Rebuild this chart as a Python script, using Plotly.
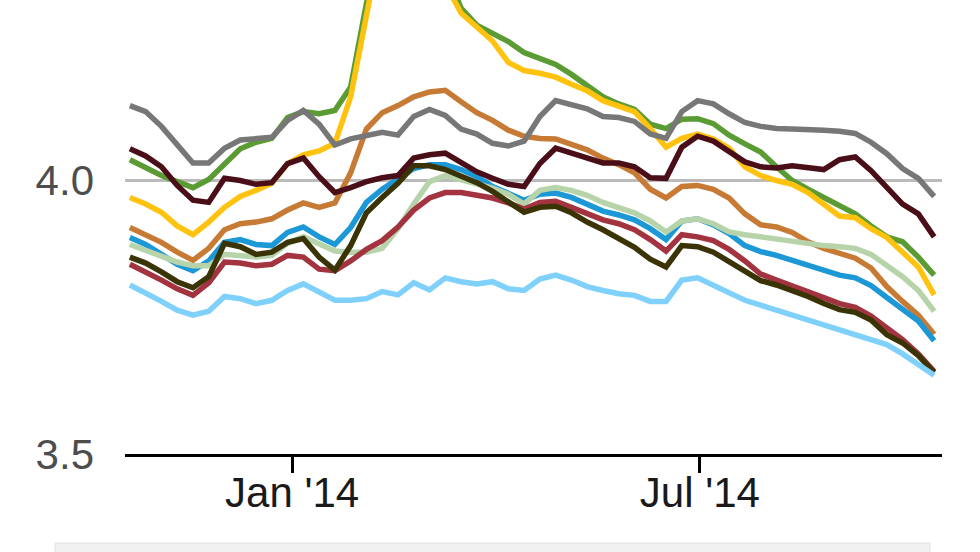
import pandas as pd
import plotly.graph_objects as go

# Weekly dates (Mondays), Oct 21 2013 - Oct 13 2014
dates = pd.date_range("2013-10-21", periods=52, freq="7D")

gray = [4.137, 4.126, 4.099, 4.067, 4.032, 4.032, 4.059, 4.074, 4.076, 4.079,
        4.110, 4.128, 4.103, 4.065, 4.076, 4.083, 4.088, 4.083, 4.117, 4.130,
        4.119, 4.094, 4.085, 4.068, 4.063, 4.072, 4.117, 4.146, 4.139, 4.131,
        4.117, 4.115, 4.108, 4.085, 4.077, 4.126, 4.146, 4.140, 4.122, 4.106,
        4.099, 4.095, 4.094, 4.094, 4.092, 4.090, 4.086, 4.070, 4.049, 4.022,
        4.004, 3.971]

maroon = [4.058, 4.045, 4.025, 3.991, 3.964, 3.960, 4.004, 4.000, 3.993, 3.996,
          4.031, 4.041, 4.007, 3.978, 3.987, 3.998, 4.005, 4.009, 4.041, 4.047,
          4.050, 4.032, 4.016, 4.004, 3.993, 3.989, 4.031, 4.059, 4.050, 4.043,
          4.032, 4.032, 4.025, 4.005, 4.004, 4.061, 4.081, 4.072, 4.054, 4.034,
          4.025, 4.023, 4.027, 4.023, 4.020, 4.038, 4.043, 4.018, 3.989, 3.957,
          3.939, 3.897]

green = [4.038, 4.023, 4.009, 3.998, 3.987, 4.002, 4.029, 4.058, 4.070, 4.077,
         4.115, 4.126, 4.122, 4.128, 4.171, 4.324, 4.432, 4.468, 4.477, 4.450,
         4.387, 4.315, 4.284, 4.270, 4.254, 4.234, 4.223, 4.212, 4.194, 4.173,
         4.153, 4.140, 4.130, 4.103, 4.095, 4.112, 4.113, 4.104, 4.083, 4.067,
         4.052, 4.025, 4.000, 3.984, 3.969, 3.953, 3.939, 3.917, 3.897, 3.888,
         3.860, 3.827]

yellow = [3.969, 3.957, 3.942, 3.917, 3.901, 3.924, 3.951, 3.971, 3.982, 3.995,
          4.031, 4.047, 4.054, 4.068, 4.153, 4.306, 4.450, 4.495, 4.468, 4.423,
          4.360, 4.306, 4.279, 4.255, 4.216, 4.201, 4.196, 4.189, 4.176, 4.164,
          4.146, 4.135, 4.126, 4.095, 4.061, 4.077, 4.085, 4.076, 4.059, 4.025,
          4.009, 4.000, 3.993, 3.978, 3.955, 3.935, 3.932, 3.912, 3.896, 3.869,
          3.842, 3.791]

orange = [3.914, 3.901, 3.887, 3.869, 3.854, 3.876, 3.910, 3.921, 3.924, 3.930,
          3.946, 3.959, 3.951, 3.959, 4.014, 4.094, 4.124, 4.137, 4.153, 4.162,
          4.165, 4.144, 4.124, 4.110, 4.092, 4.081, 4.077, 4.076, 4.067, 4.056,
          4.041, 4.029, 4.014, 3.984, 3.968, 3.989, 3.991, 3.984, 3.968, 3.939,
          3.919, 3.915, 3.905, 3.888, 3.876, 3.867, 3.858, 3.840, 3.806, 3.779,
          3.754, 3.719]

blue = [3.896, 3.883, 3.865, 3.847, 3.835, 3.853, 3.887, 3.892, 3.883, 3.881,
        3.905, 3.915, 3.897, 3.883, 3.914, 3.960, 3.984, 4.002, 4.022, 4.029,
        4.029, 4.020, 4.007, 3.989, 3.977, 3.964, 3.975, 3.977, 3.969, 3.957,
        3.944, 3.937, 3.928, 3.912, 3.892, 3.926, 3.930, 3.919, 3.903, 3.881,
        3.870, 3.863, 3.854, 3.845, 3.836, 3.827, 3.822, 3.808, 3.786, 3.764,
        3.743, 3.707]

pale_green = [3.883, 3.872, 3.860, 3.851, 3.844, 3.844, 3.865, 3.862, 3.860, 3.863,
              3.885, 3.897, 3.883, 3.871, 3.869, 3.869, 3.876, 3.912, 3.957, 3.998,
              4.009, 4.002, 3.993, 3.986, 3.975, 3.957, 3.982, 3.987, 3.982, 3.973,
              3.960, 3.951, 3.941, 3.926, 3.906, 3.926, 3.930, 3.921, 3.906, 3.901,
              3.897, 3.894, 3.888, 3.885, 3.881, 3.879, 3.876, 3.865, 3.845, 3.824,
              3.799, 3.761]

olive = [3.860, 3.849, 3.833, 3.815, 3.804, 3.824, 3.885, 3.879, 3.865, 3.869,
         3.887, 3.894, 3.860, 3.836, 3.881, 3.941, 3.969, 3.995, 4.027, 4.027,
         4.020, 4.009, 3.996, 3.980, 3.962, 3.942, 3.951, 3.953, 3.941, 3.924,
         3.910, 3.894, 3.878, 3.856, 3.842, 3.881, 3.879, 3.869, 3.851, 3.833,
         3.817, 3.809, 3.799, 3.788, 3.775, 3.764, 3.759, 3.745, 3.718, 3.703,
         3.680, 3.649]

crimson = [3.847, 3.833, 3.818, 3.802, 3.790, 3.813, 3.851, 3.849, 3.844, 3.847,
           3.863, 3.860, 3.838, 3.835, 3.853, 3.874, 3.890, 3.915, 3.946, 3.968,
           3.978, 3.978, 3.973, 3.968, 3.959, 3.948, 3.960, 3.962, 3.951, 3.939,
           3.928, 3.921, 3.910, 3.892, 3.871, 3.901, 3.897, 3.890, 3.874, 3.853,
           3.829, 3.818, 3.808, 3.797, 3.786, 3.775, 3.768, 3.752, 3.730, 3.709,
           3.683, 3.651]

light_blue = [3.809, 3.795, 3.779, 3.763, 3.754, 3.761, 3.788, 3.784, 3.775, 3.781,
              3.799, 3.811, 3.797, 3.781, 3.781, 3.784, 3.797, 3.791, 3.813, 3.800,
              3.822, 3.815, 3.811, 3.815, 3.802, 3.799, 3.820, 3.827, 3.818, 3.806,
              3.799, 3.793, 3.790, 3.779, 3.779, 3.818, 3.822, 3.808, 3.795, 3.781,
              3.772, 3.763, 3.754, 3.745, 3.736, 3.727, 3.719, 3.710, 3.700, 3.683,
              3.664, 3.644]

y_tickvals = [3.5, 4.0]
y_ticktext = ["3.5", "4.0"]
x_tickvals = ["2014-01-01", "2014-07-01"]
x_ticktext = ["Jan '14", "Jul '14"]

# drawing order: bottom to top
series = [
    ("Series G", green, "#5a9c33"),
    ("Series Y", yellow, "#ffc20e"),
    ("Series O", orange, "#c77a34"),
    ("Series B", blue, "#1b98d5"),
    ("Series P", pale_green, "#b7d3a9"),
    ("Series C", crimson, "#a2333f"),
    ("Series D", olive, "#3a3306"),
    ("Series L", light_blue, "#7fd1fb"),
    ("Series A", gray, "#777777"),
    ("Series M", maroon, "#4a0e18"),
]

fig = go.Figure()
for name, vals, color in series:
    fig.add_trace(go.Scatter(
        x=dates, y=vals, mode="lines", name=name,
        line=dict(color=color, width=5.5),
        showlegend=False, hoverinfo="x+y+name",
    ))

fig.update_layout(
    width=980, height=552,
    margin=dict(l=125, r=38, t=0, b=98),
    paper_bgcolor="white", plot_bgcolor="white",
    font=dict(family="Liberation Sans, Arial, sans-serif"),
    xaxis=dict(
        range=["2013-10-18 20:00", "2014-10-16 12:00"],
        tickvals=x_tickvals, ticktext=x_ticktext,
        showgrid=False, zeroline=False,
        showline=True, linecolor="#000000", linewidth=3,
        ticks="",
        minor=dict(ticks="outside", ticklen=16, tickwidth=3, tickcolor="#000000",
                   dtick="M6", tick0="2014-01-01", showgrid=False),
        tickfont=dict(size=42, color="#1a1a1a"),
    ),
    yaxis=dict(
        range=[3.5, 4.33],
        tickvals=y_tickvals, ticktext=y_ticktext,
        showgrid=True, gridcolor="#bbbbbb", gridwidth=3,
        zeroline=False, showline=False, ticks="",
        ticklabelstandoff=30,
        tickfont=dict(size=42, color="#4d4d4d"),
    ),
    shapes=[dict(
        type="rect", xref="paper", yref="paper",
        x0=-0.0857, x1=0.9853, y0=-0.196, y1=-0.26,
        fillcolor="#f0f0f0", line=dict(color="#e2e2e2", width=1),
        layer="below",
    )],
)

fig.write_html(
    "out.html",
    config={"displayModeBar": False},
    post_script="document.body.style.margin='0';document.body.style.overflow='hidden';",
)
